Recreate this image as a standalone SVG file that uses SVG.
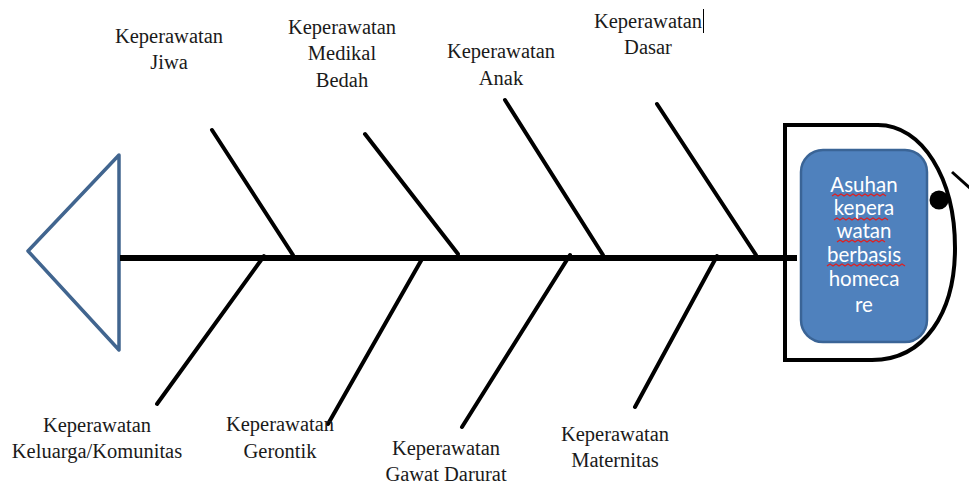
<svg xmlns="http://www.w3.org/2000/svg" width="969" height="487" viewBox="0 0 969 487">
<style>
.bone{stroke:#000;stroke-width:4;stroke-linecap:round;fill:none}
.lbl{font-family:"Liberation Serif","Times New Roman",serif;font-size:20.5px;fill:#1a1a1a;text-anchor:middle}
.inner{font-family:Lato,"Open Sans",sans-serif;font-size:20.5px;fill:#fff;text-anchor:middle}
.sq{stroke:#e02020;stroke-width:1.2;fill:none}
</style>
<rect width="969" height="487" fill="#fff"/>
<g id="tail">
<polygon points="119,155 28,251 119,350" fill="none" stroke="#41658f" stroke-width="3.5" stroke-linejoin="round"/>
</g>
<g id="connectors">
<line x1="120" y1="258" x2="797" y2="258" stroke="#000" stroke-width="6"/>
<line class="bone" x1="212" y1="130" x2="293" y2="255"/>
<line class="bone" x1="365" y1="134" x2="458" y2="254"/>
<line class="bone" x1="505" y1="100" x2="603" y2="255"/>
<line class="bone" x1="657" y1="104" x2="756" y2="255"/>
<line class="bone" x1="264" y1="256" x2="157" y2="404"/>
<line class="bone" x1="422" y1="259" x2="328" y2="424"/>
<line class="bone" x1="570" y1="255" x2="462" y2="427"/>
<line class="bone" x1="717" y1="256" x2="635" y2="407"/>
</g>
<g id="head">
<path d="M785,125 H878 C922,125 955,178 955,248 C955,312 925,360 872,360 H785 Z" fill="none" stroke="#000" stroke-width="4"/>
<circle cx="939" cy="200" r="9.5" fill="#000"/>
<line x1="952" y1="172" x2="972" y2="190" stroke="#000" stroke-width="3"/>
</g>
<g id="effect">
<rect x="801" y="150" width="126" height="192" rx="22" ry="22" fill="#4f81bd" stroke="#3a6496" stroke-width="2.5"/>
<text class="inner" x="864" y="192">Asuhan</text>
<text class="inner" x="864" y="215">kepera</text>
<text class="inner" x="864" y="238">watan</text>
<text class="inner" x="864" y="262">berbasis</text>
<text class="inner" x="864" y="286">homeca</text>
<text class="inner" x="864" y="312">re</text>
<path class="sq" d="M832,196 l3,-2 l3,2 l3,-2 l3,2 l3,-2 l3,2 l3,-2 l3,2 l3,-2 l3,2 l3,-2 l3,2 l3,-2 l3,2 l3,-2 l3,2 l3,-2 l3,2"/>
<path class="sq" d="M834,220 l3,-2 l3,2 l3,-2 l3,2 l3,-2 l3,2 l3,-2 l3,2 l3,-2 l3,2 l3,-2 l3,2 l3,-2 l3,2 l3,-2 l3,2 l3,-2 l3,2"/>
<path class="sq" d="M837,242 l3,-2 l3,2 l3,-2 l3,2 l3,-2 l3,2 l3,-2 l3,2 l3,-2 l3,2 l3,-2 l3,2 l3,-2 l3,2 l3,-2 l3,2"/>
<path class="sq" d="M827,266 l3,-2 l3,2 l3,-2 l3,2 l3,-2 l3,2 l3,-2 l3,2 l3,-2 l3,2 l3,-2 l3,2 l3,-2 l3,2 l3,-2 l3,2 l3,-2 l3,2 l3,-2 l3,2 l3,-2 l3,2 l3,-2 l3,2 l3,-2 l3,2"/>
</g>
<g id="cause-jiwa"><text class="lbl" x="169" y="43">Keperawatan</text><text class="lbl" x="169" y="69">Jiwa</text></g>
<g id="cause-medikal-bedah"><text class="lbl" x="342" y="34">Keperawatan</text><text class="lbl" x="342" y="60">Medikal</text><text class="lbl" x="342" y="87">Bedah</text></g>
<g id="cause-anak"><text class="lbl" x="501" y="58">Keperawatan</text><text class="lbl" x="501" y="85">Anak</text></g>
<g id="cause-dasar"><text class="lbl" x="648" y="28">Keperawatan</text><text class="lbl" x="648" y="54">Dasar</text><line x1="703.5" y1="9" x2="703.5" y2="33" stroke="#000" stroke-width="1"/></g>
<g id="cause-keluarga"><text class="lbl" x="97" y="432">Keperawatan</text><text class="lbl" x="97" y="458">Keluarga/Komunitas</text></g>
<g id="cause-gerontik"><text class="lbl" x="280" y="431">Keperawatan</text><text class="lbl" x="280" y="458">Gerontik</text></g>
<g id="cause-gawat-darurat"><text class="lbl" x="446" y="455">Keperawatan</text><text class="lbl" x="446" y="481">Gawat Darurat</text></g>
<g id="cause-maternitas"><text class="lbl" x="615" y="441">Keperawatan</text><text class="lbl" x="615" y="467">Maternitas</text></g>
</svg>
